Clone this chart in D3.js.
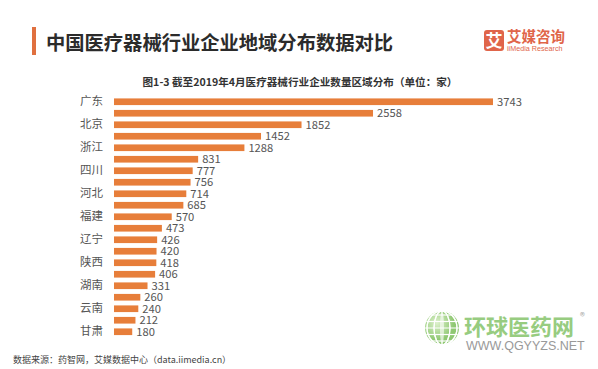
<!DOCTYPE html>
<html>
<head>
<meta charset="utf-8">
<script src="https://cdn.jsdelivr.net/npm/d3@7"></script>
<style>
  html, body { margin: 0; padding: 0; background: #fff; }
  svg { display: block; font-family: "Noto Sans CJK SC", "Noto Sans", sans-serif; }
</style>
</head>
<body>
<svg id="chart" width="598" height="369"></svg>
<script>
// provinces, top to bottom (only every other one is labelled in the original)
const provinces = ["广东", "江苏", "北京", "山东", "浙江", "上海", "四川", "河南", "河北", "湖北",
  "福建", "安徽", "辽宁", "江西", "陕西", "天津", "湖南", "重庆", "云南", "广西", "甘肃"];
const counts = [3743, 2558, 1852, 1452, 1288, 831, 777, 756, 714, 685,
  570, 473, 426, 420, 418, 406, 331, 260, 240, 212, 180];

const titleText = "中国医疗器械行业企业地域分布数据对比";
const subtitleText = "图1-3 截至2019年4月医疗器械行业企业数量区域分布（单位：家）";
const sourceText = "数据来源：药智网，艾媒数据中心（data.iimedia.cn）";

const orange = "#e77e3a";

const svg = d3.select("#chart");

// title + accent bar
svg.append("rect")
  .attr("x", 32).attr("y", 27)
  .attr("width", 4).attr("height", 28)
  .attr("fill", "#e0703f");

svg.append("text")
  .attr("x", 46).attr("y", 50)
  .attr("font-size", 19.3)
  .attr("font-weight", "bold")
  .attr("fill", "#2b2b2b")
  .text(titleText);

// iiMedia logo
const logo = svg.append("g").attr("transform", "translate(484,30)");
logo.append("rect")
  .attr("width", 20).attr("height", 21).attr("rx", 3)
  .attr("fill", "#e0654a");
logo.append("text")
  .attr("x", 10).attr("y", 17)
  .attr("text-anchor", "middle")
  .attr("font-size", 17).attr("font-weight", "bold")
  .attr("fill", "#fff")
  .text("艾");
logo.append("text")
  .attr("x", 23).attr("y", 12)
  .attr("font-size", 14.5).attr("font-weight", "bold")
  .attr("fill", "#e0654a")
  .text("艾媒咨询");
logo.append("text")
  .attr("x", 23).attr("y", 21)
  .attr("font-size", 7.2)
  .attr("font-family", "'Liberation Sans', Arial, sans-serif")
  .attr("fill", "#e0654a")
  .text("iiMedia Research");

// subtitle
svg.append("text")
  .attr("x", 300).attr("y", 86)
  .attr("text-anchor", "middle")
  .attr("font-size", 10.6)
  .attr("font-weight", 600)
  .attr("fill", "#333")
  .text(subtitleText);

// scales
const x = d3.scaleLinear()
  .domain([0, 3743])
  .range([114, 493]);

const y = d3.scaleBand()
  .domain(provinces)
  .range([96, 337.5])
  .paddingInner(0.42)
  .paddingOuter(0.21);

// bars
svg.append("g")
  .selectAll("rect")
  .data(counts)
  .join("rect")
  .attr("x", x(0))
  .attr("y", (d, i) => y(provinces[i]))
  .attr("width", d => x(d) - x(0))
  .attr("height", y.bandwidth())
  .attr("fill", orange);

// value labels
svg.append("g")
  .selectAll("text")
  .data(counts)
  .join("text")
  .attr("x", d => x(d) + 4)
  .attr("y", (d, i) => y(provinces[i]) + y.bandwidth() / 2)
  .attr("dy", "0.36em")
  .attr("font-size", 11.2)
  .attr("fill", "#555")
  .text(d => d);

// category axis, every other label shown
const yAxis = d3.axisLeft(y)
  .tickSize(0)
  .tickPadding(11)
  .tickFormat((d, i) => i % 2 === 0 ? d : "");

const ag = svg.append("g")
  .attr("transform", `translate(${x(0)},0)`)
  .call(yAxis);
ag.select(".domain").remove();
ag.selectAll("text")
  .attr("font-size", 11.5)
  .attr("font-family", "'Noto Sans CJK SC', sans-serif")
  .attr("fill", "#555");

// source note
svg.append("text")
  .attr("x", 13).attr("y", 363)
  .attr("font-size", 9)
  .attr("fill", "#444")
  .text(sourceText);

// watermark
const wm = svg.append("g").attr("opacity", 0.85);
const grad = svg.append("defs").append("radialGradient")
  .attr("id", "globe").attr("cx", "35%").attr("cy", "35%");
grad.append("stop").attr("offset", "0").attr("stop-color", "#d8efc4");
grad.append("stop").attr("offset", "1").attr("stop-color", "#7cbf5a");

wm.append("circle")
  .attr("cx", 442).attr("cy", 328).attr("r", 17)
  .attr("fill", "url(#globe)");
for (let k = -2; k <= 2; k++) {
  wm.append("ellipse")
    .attr("cx", 442).attr("cy", 328)
    .attr("rx", Math.abs(k) * 7 + 1).attr("ry", 17)
    .attr("fill", "none").attr("stroke", "#fff").attr("stroke-width", 1.2);
  wm.append("line")
    .attr("x1", 442 - Math.sqrt(289 - (k * 6.5) ** 2))
    .attr("x2", 442 + Math.sqrt(289 - (k * 6.5) ** 2))
    .attr("y1", 328 + k * 6.5).attr("y2", 328 + k * 6.5)
    .attr("stroke", "#fff").attr("stroke-width", 1.2);
}

wm.append("text")
  .attr("x", 464).attr("y", 335)
  .attr("font-size", 22).attr("font-weight", "bold")
  .attr("fill", "#86c46a")
  .text("环球医药网");
wm.append("text")
  .attr("x", 580).attr("y", 320)
  .attr("font-size", 10)
  .attr("fill", "#999")
  .text("®");
wm.append("text")
  .attr("x", 466).attr("y", 350)
  .attr("font-size", 12.5)
  .attr("font-family", "'Liberation Sans', Arial, sans-serif")
  .attr("fill", "#888")
  .text("WWW.QGYYZS.NET");
</script>
</body>
</html>
